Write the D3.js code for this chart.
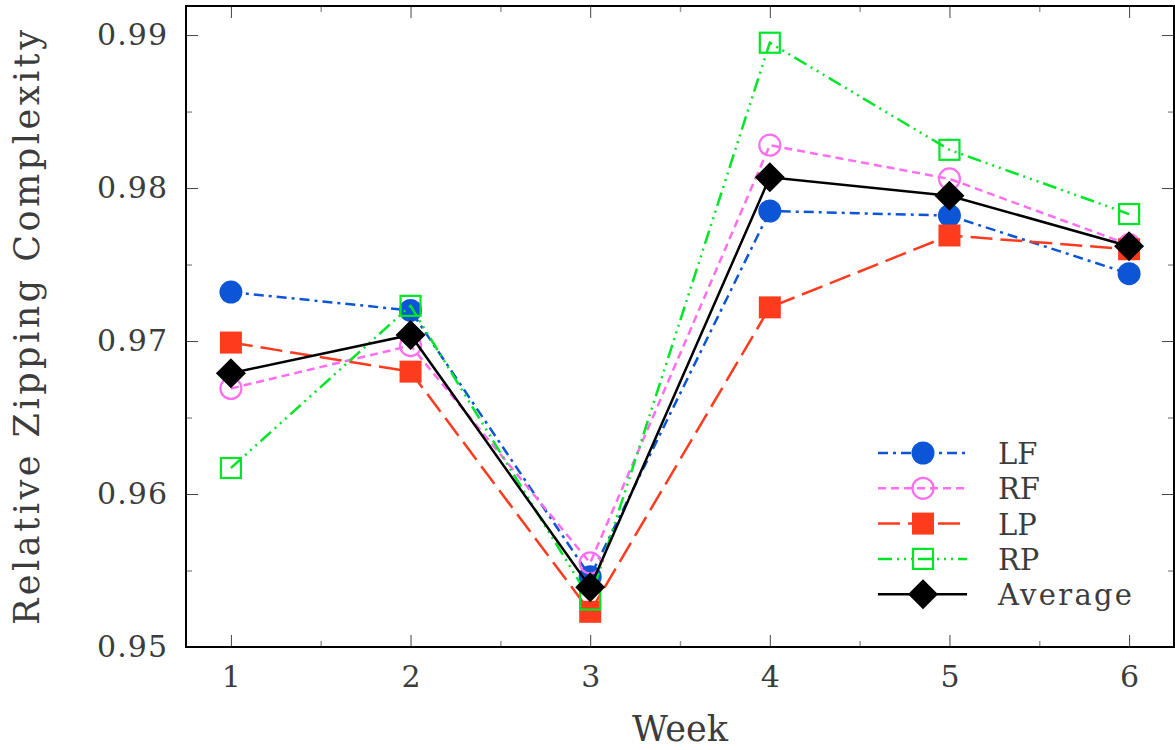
<!DOCTYPE html>
<html>
<head>
<meta charset="utf-8">
<script src="https://cdn.jsdelivr.net/npm/d3@7"></script>
<style>
  body { margin: 0; background: #fff; }
  svg { display: block; }
</style>
</head>
<body>
<svg></svg>
<script>
var weeks = [1, 2, 3, 4, 5, 6];
var lfVals  = [0.9732, 0.9720, 0.9546, 0.9785, 0.9782, 0.9744];
var rfVals  = [0.9669, 0.9697, 0.9555, 0.9828, 0.9806, 0.9763];
var lpVals  = [0.9699, 0.9680, 0.9523, 0.9722, 0.9769, 0.9760];
var rpVals  = [0.9617, 0.9723, 0.9531, 0.9895, 0.9825, 0.9783];
var avgVals = [0.9679, 0.9704, 0.9539, 0.9807, 0.9795, 0.9762];
var seriesNames = ["LF", "RF", "LP", "RP", "Average"];
var yTickVals = [0.95, 0.96, 0.97, 0.98, 0.99];
var yMinorVals = [0.955, 0.965, 0.975, 0.985];
var xMinorVals = [1.5, 2.5, 3.5, 4.5, 5.5];

// drawing styles, one per series (same order as seriesNames)
var styles = [
  {color: "#0b55d6", dash: "10,5,3,5",           marker: "circle",  fill: true},
  {color: "#ff6ef0", dash: "8,5",                marker: "circle",  fill: false},
  {color: "#ff3b1e", dash: "22,8",               marker: "square",  fill: true},
  {color: "#00e626", dash: "14,5,2,5,2,5,2,5",   marker: "square",  fill: false},
  {color: "#000000", dash: null,                 marker: "diamond", fill: true}
];
var allVals = [lfVals, rfVals, lpVals, rpVals, avgVals];

var FONT = "'DejaVu Serif', 'Liberation Serif', serif";
var TXT = "#3c3c3c";

var w = 1175, h = 750;
var pLeft = 186, pRight = 1174, pTop = 6, pBottom = 647;

var svg = d3.select("svg").attr("width", w).attr("height", h);

var x = d3.scaleLinear().domain([0.75, 6.25]).range([pLeft, pRight]);
var y = d3.scaleLinear().domain([0.95, 0.9919]).range([pBottom, pTop]);

// ticks (all pointing inward)
function styleTicks(g, col, width) {
  g.select(".domain").remove();
  g.selectAll(".tick line").attr("stroke", col).attr("stroke-width", width);
}

svg.append("g").attr("transform", "translate(" + pLeft + ",0)")
  .call(d3.axisLeft(y).tickValues(yTickVals).tickFormat(d3.format(".2f"))
    .tickSizeInner(-12).tickSizeOuter(0).tickPadding(19))
  .call(styleTicks, "#444", 1)
  .call(function(g) {
    g.attr("font-family", FONT);
    g.selectAll("text").attr("font-size", 30).attr("fill", TXT)
      .attr("textLength", 70).attr("lengthAdjust", "spacing");
  });
svg.append("g").attr("transform", "translate(" + pLeft + ",0)")
  .call(d3.axisLeft(y).tickValues(yMinorVals).tickFormat("").tickSizeInner(-6).tickSizeOuter(0))
  .call(styleTicks, "#999", 1.5);
svg.append("g").attr("transform", "translate(" + pRight + ",0)")
  .call(d3.axisRight(y).tickValues(yTickVals).tickFormat("").tickSizeInner(-12).tickSizeOuter(0))
  .call(styleTicks, "#444", 1);
svg.append("g").attr("transform", "translate(" + pRight + ",0)")
  .call(d3.axisRight(y).tickValues(yMinorVals).tickFormat("").tickSizeInner(-6).tickSizeOuter(0))
  .call(styleTicks, "#999", 1.5);

svg.append("g").attr("transform", "translate(0," + pBottom + ")")
  .call(d3.axisBottom(x).tickValues(weeks).tickFormat(d3.format("d")).tickSizeInner(-12).tickSizeOuter(0))
  .call(styleTicks, "#444", 1)
  .call(function(g) {
    g.attr("font-family", FONT);
    g.selectAll("text").attr("font-size", 30).attr("fill", TXT)
      .attr("y", 40).attr("dy", null);
  });
svg.append("g").attr("transform", "translate(0," + pBottom + ")")
  .call(d3.axisBottom(x).tickValues(xMinorVals).tickFormat("").tickSizeInner(-6).tickSizeOuter(0))
  .call(styleTicks, "#999", 1.5);
svg.append("g").attr("transform", "translate(0," + pTop + ")")
  .call(d3.axisTop(x).tickValues(weeks).tickFormat("").tickSizeInner(-12).tickSizeOuter(0))
  .call(styleTicks, "#444", 1);
svg.append("g").attr("transform", "translate(0," + pTop + ")")
  .call(d3.axisTop(x).tickValues(xMinorVals).tickFormat("").tickSizeInner(-6).tickSizeOuter(0))
  .call(styleTicks, "#999", 1.5);

// frame
svg.append("rect")
  .attr("x", pLeft).attr("y", pTop)
  .attr("width", pRight - pLeft).attr("height", pBottom - pTop)
  .attr("fill", "none").attr("stroke", "#000").attr("stroke-width", 2);

// axis titles
svg.append("text")
  .attr("x", (pLeft + pRight) / 2).attr("y", 741)
  .attr("text-anchor", "middle").attr("font-size", 35)
  .attr("font-family", FONT).attr("fill", TXT)
  .attr("textLength", 96).attr("lengthAdjust", "spacing")
  .text("Week");
svg.append("text")
  .attr("transform", "translate(39," + ((pTop + pBottom) / 2 + 1) + ") rotate(-90)")
  .attr("text-anchor", "middle").attr("font-size", 35)
  .attr("font-family", FONT).attr("fill", TXT)
  .attr("textLength", 595).attr("lengthAdjust", "spacing")
  .text("Relative  Zipping  Complexity");

function drawMarker(g, st, cx, cy) {
  var strokeW = st.fill ? 0 : 2.2;
  if (st.marker === "circle") {
    g.append("circle").attr("cx", cx).attr("cy", cy)
      .attr("r", st.fill ? 11.5 : 10.5)
      .attr("fill", st.fill ? st.color : "none")
      .attr("stroke", st.color).attr("stroke-width", strokeW);
  } else if (st.marker === "square") {
    var s = st.fill ? 22 : 20;
    g.append("rect").attr("x", cx - s / 2).attr("y", cy - s / 2)
      .attr("width", s).attr("height", s)
      .attr("fill", st.fill ? st.color : "none")
      .attr("stroke", st.color).attr("stroke-width", strokeW);
  } else {
    var r = 15;
    g.append("path")
      .attr("d", "M" + cx + "," + (cy - r) + "L" + (cx + r) + "," + cy + "L" + cx + "," + (cy + r) + "L" + (cx - r) + "," + cy + "Z")
      .attr("fill", st.color);
  }
}

var line = d3.line()
  .x(function(d) { return x(d[0]); })
  .y(function(d) { return y(d[1]); });

allVals.forEach(function(vals, i) {
  var st = styles[i];
  var pts = weeks.map(function(wk, j) { return [wk, vals[j]]; });
  var g = svg.append("g");
  g.append("path")
    .attr("d", line(pts))
    .attr("fill", "none")
    .attr("stroke", st.color)
    .attr("stroke-width", 2.5)
    .attr("stroke-dasharray", st.dash);
  pts.forEach(function(p) { drawMarker(g, st, x(p[0]), y(p[1])); });
});

// legend
var legY0 = 453, legStep = 35.3;
seriesNames.forEach(function(name, i) {
  var st = styles[i];
  var ly = legY0 + i * legStep;
  var g = svg.append("g");
  g.append("line")
    .attr("x1", 878).attr("x2", 967).attr("y1", ly).attr("y2", ly)
    .attr("stroke", st.color).attr("stroke-width", 2.5)
    .attr("stroke-dasharray", st.dash);
  drawMarker(g, st, 923, ly);
  var t = g.append("text")
    .attr("x", 998).attr("y", ly + 11)
    .attr("font-size", 29).attr("font-family", FONT).attr("fill", TXT)
    .text(name);
  if (name === "Average") t.attr("textLength", 134).attr("lengthAdjust", "spacing");
});
</script>
</body>
</html>
